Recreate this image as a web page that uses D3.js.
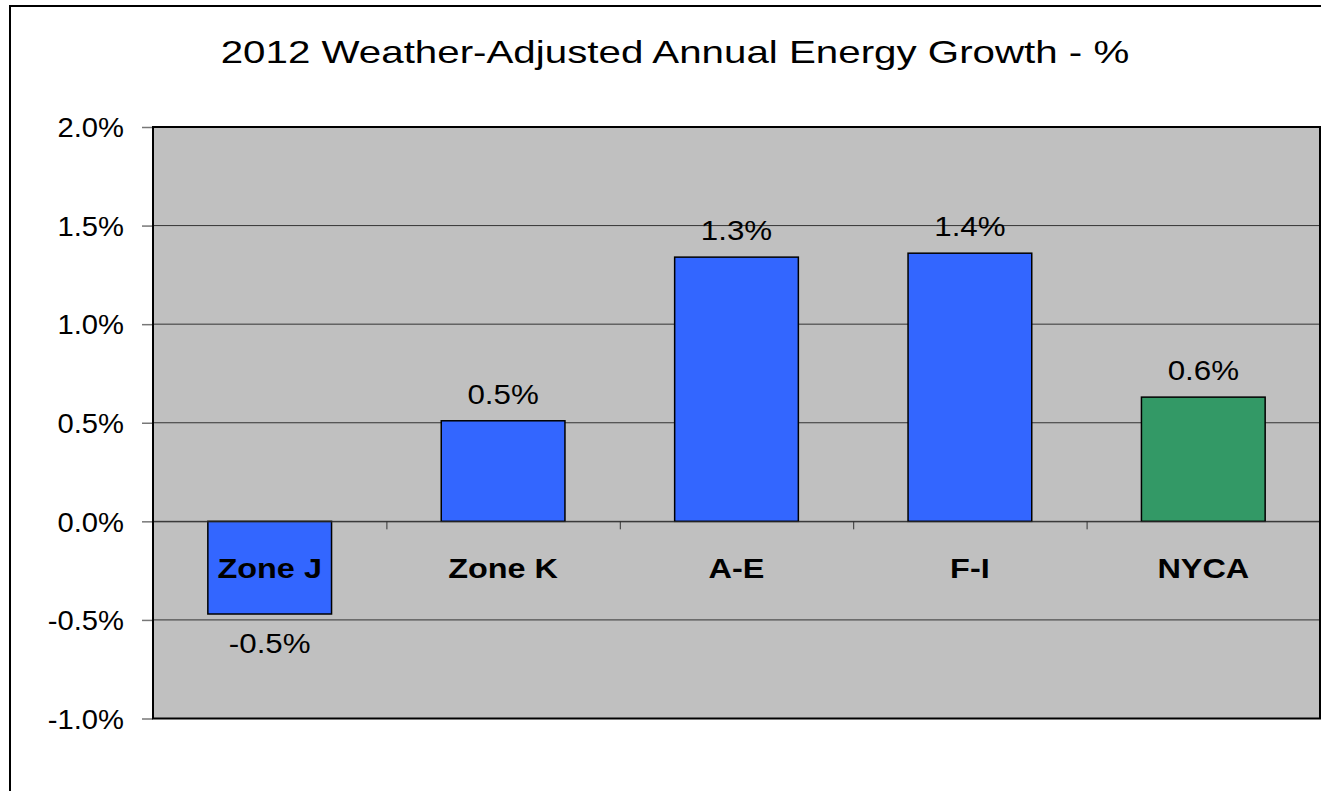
<!DOCTYPE html>
<html lang="en">
<head>
  <meta charset="UTF-8">
  <title>2012 Weather-Adjusted Annual Energy Growth</title>
  <script src="https://d3js.org/d3.v7.min.js"></script>
  <style>
    body { margin: 0; background: #fff; }
    text { font-family: "Liberation Sans", Arial, sans-serif; fill: #000; }
  </style>
</head>
<body>
  <script>
    const width = 1321, height = 791;

    const zones = ['Zone J', 'Zone K', 'A-E', 'F-I', 'NYCA'];
    const growth = [-0.47, 0.51, 1.34, 1.36, 0.63];   // percent
    const barColors = ['#3366ff', '#3366ff', '#3366ff', '#3366ff', '#339966'];
    const yTicks = [-1.0, -0.5, 0.0, 0.5, 1.0, 1.5, 2.0];

    const plot = { left: 153, right: 1320, top: 127, bottom: 718.5 };
    const stretch = 1.2;      // the source text is drawn a bit wide
    const tickStretch = 1.08;

    const svg = d3.select('body')
      .append('svg')
      .attr('width', width)
      .attr('height', height);

    // outer frame (runs off the right/bottom edge like the original)
    svg.append('rect')
      .attr('x', 10).attr('y', 6)
      .attr('width', 1340).attr('height', 820)
      .attr('fill', '#fff')
      .attr('stroke', '#000')
      .attr('stroke-width', 2);

    const x = d3.scaleBand().domain(zones)
      .range([plot.left, plot.right])
      .paddingInner(0.47)
      .paddingOuter(0.235);
    const xEdge = d3.scaleLinear().domain([0, zones.length]).range([plot.left, plot.right]);
    const y = d3.scaleLinear().domain([-1, 2]).range([plot.bottom, plot.top]);

    // plot background
    svg.append('rect')
      .attr('x', plot.left).attr('y', plot.top)
      .attr('width', plot.right - plot.left)
      .attr('height', plot.bottom - plot.top)
      .attr('fill', '#c0c0c0');

    // gridlines
    svg.append('g')
      .selectAll('line')
      .data(yTicks.slice(1, -1))
      .join('line')
      .attr('x1', plot.left).attr('x2', plot.right)
      .attr('y1', d => y(d)).attr('y2', d => y(d))
      .attr('stroke', '#333')
      .attr('stroke-width', 1);

    // y axis
    const yAxis = d3.axisLeft(y)
      .tickValues(yTicks)
      .tickFormat(d => d.toFixed(1) + '%')
      .tickSizeInner(11)
      .tickSizeOuter(0);
    const gy = svg.append('g')
      .attr('transform', `translate(${plot.left}, 0)`)
      .call(yAxis);
    gy.select('.domain').remove();
    gy.selectAll('.tick line').attr('stroke', '#777').attr('stroke-width', 1.5);
    gy.selectAll('.tick text')
      .attr('font-size', 27)
      .attr('font-family', '"Liberation Sans", Arial, sans-serif')
      .attr('x', -29 / tickStretch)
      .attr('dy', '0.36em')
      .attr('transform', `scale(${tickStretch},1)`);

    // bars
    svg.append('g')
      .selectAll('rect')
      .data(zones)
      .join('rect')
      .attr('x', d => x(d))
      .attr('width', x.bandwidth())
      .attr('y', (d, i) => y(Math.max(0, growth[i])))
      .attr('height', (d, i) => Math.abs(y(growth[i]) - y(0)))
      .attr('fill', (d, i) => barColors[i])
      .attr('stroke', '#000')
      .attr('stroke-width', 1.5);

    // category axis along zero line
    const xAxis = d3.axisBottom(xEdge)
      .tickValues(d3.range(1, zones.length))
      .tickFormat('')
      .tickSizeInner(8)
      .tickSizeOuter(0);
    const gx = svg.append('g')
      .attr('transform', `translate(0, ${y(0)})`)
      .call(xAxis);
    gx.select('.domain').attr('stroke', '#333').attr('stroke-width', 1);
    gx.selectAll('.tick line').attr('stroke', '#333');

    // category labels
    svg.append('g')
      .selectAll('text')
      .data(zones)
      .join('text')
      .attr('transform', d => `translate(${x(d) + x.bandwidth() / 2}, 578) scale(${stretch},1)`)
      .attr('text-anchor', 'middle')
      .attr('font-size', 27)
      .attr('font-weight', 'bold')
      .text(d => d);

    // value labels
    svg.append('g')
      .selectAll('text')
      .data(zones)
      .join('text')
      .attr('transform', (d, i) => {
        const v = growth[i];
        const ty = v >= 0 ? y(v) - 17 : y(v) + 39;
        return `translate(${x(d) + x.bandwidth() / 2}, ${ty}) scale(1.16,1)`;
      })
      .attr('text-anchor', 'middle')
      .attr('font-size', 27)
      .text((d, i) => growth[i].toFixed(1) + '%');

    // plot border
    svg.append('rect')
      .attr('x', plot.left).attr('y', plot.top)
      .attr('width', plot.right - plot.left)
      .attr('height', plot.bottom - plot.top)
      .attr('fill', 'none')
      .attr('stroke', '#000')
      .attr('stroke-width', 2);

    // title
    svg.append('text')
      .attr('transform', `translate(675, 63) scale(1.26,1)`)
      .attr('text-anchor', 'middle')
      .attr('font-size', 32)
      .text('2012 Weather-Adjusted Annual Energy Growth - %');
  </script>
</body>
</html>
